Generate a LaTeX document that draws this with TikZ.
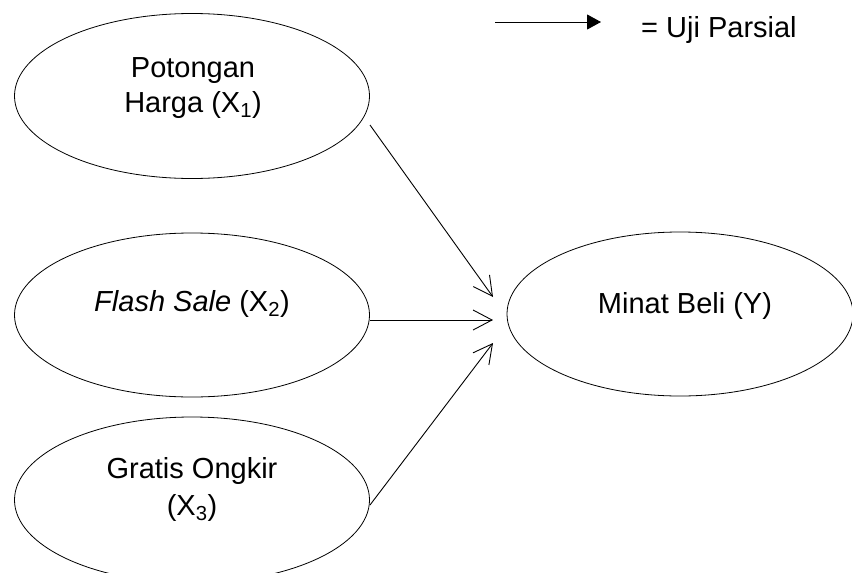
\documentclass[tikz,border=0pt]{standalone}
\usepackage{fontspec}
\setmainfont{Liberation Sans}
\usetikzlibrary{shapes.geometric,arrows.meta}
\tikzset{
  var/.style={draw, ellipse, line width=0.8pt, inner sep=0pt},
  lbl/.style={anchor=base, inner sep=0pt, font=\fontsize{29}{35}\selectfont},
  conn/.style={line width=0.9pt, -{Straight Barb[length=19pt,width=20pt,line width=0.9pt]}},
  legarrow/.style={line width=0.9pt, -{Triangle[length=14pt,width=15pt]}}
}
\begin{document}
\begin{tikzpicture}[x=1pt,y=-1pt]
\clip (0,0) rectangle (852,573);
% ellipses
\node[var, minimum width=355pt, minimum height=165pt] (x1) at (192,96) {};
\node[var, minimum width=355pt, minimum height=164pt] (x2) at (192,315) {};
\node[var, minimum width=355pt, minimum height=166pt] (x3) at (192,500) {};
\node[var, minimum width=346pt, minimum height=164pt] (y) at (680,314) {};
% texts
\node[lbl] (t1a) at (193,77) {Potongan};
\node[lbl] (t1b) at (193,112) {Harga (X\textsubscript{1})};
\node[lbl] (t2) at (192,311) {\textit{Flash Sale} (X\textsubscript{2})};
\node[lbl] (t3a) at (192,478) {Gratis Ongkir};
\node[lbl] (t3b) at (192,515) {(X\textsubscript{3})};
\node[lbl] (ty) at (685,313) {Minat Beli (Y)};
% connector endpoints
\coordinate (s1) at (370,125);
\coordinate (e1) at (493,297);
\coordinate (s2) at (370,320);
\coordinate (e2) at (493,320);
\coordinate (s3) at (370,505);
\coordinate (e3) at (493,343);
\draw[conn] (s1) -- (e1);
\draw[conn] (s2) -- (e2);
\draw[conn] (s3) -- (e3);
% legend
\coordinate (la) at (495,22);
\coordinate (lb) at (601,22);
\draw[legarrow] (la) -- (lb);
\node[lbl, anchor=base west] (leg) at (641,37) {= Uji Parsial};
\end{tikzpicture}
\end{document}
